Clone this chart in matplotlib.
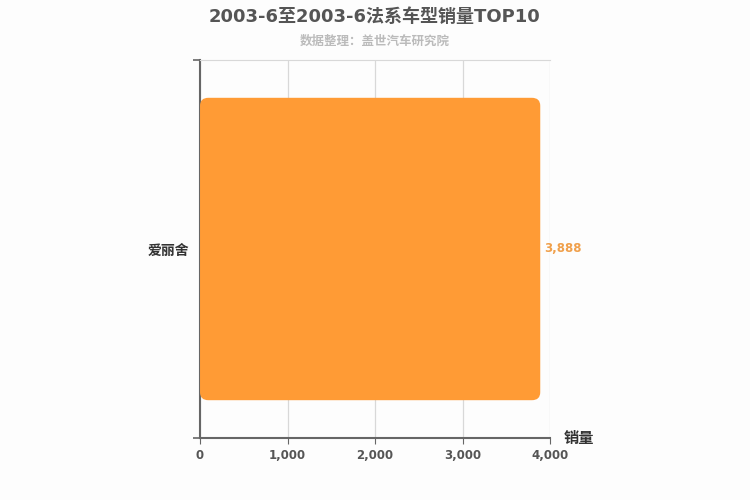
import matplotlib.pyplot as plt
from matplotlib.patches import FancyBboxPatch

plt.rcParams['font.family'] = ['DejaVu Sans', 'Noto Sans CJK SC']

models = ["爱丽舍"]
sales = [3888]
xticks = [0, 1000, 2000, 3000, 4000]

title = "2003-6至2003-6法系车型销量TOP10"
subtitle = "数据整理：盖世汽车研究院"

fig = plt.figure(figsize=(7.5, 5), dpi=100, facecolor="#fdfdfd")
ax = fig.add_axes([0.2667, 0.124, 0.4667, 0.756])
ax.set_facecolor("#fdfdfd")

bars = ax.barh(models, sales, height=0.8, color="#ff9b35")
ax.set_xlim(0, 4000)
ax.set_ylim(-0.5, 0.5)

# swap the plain bars for rounded ones at the same place
for b in bars:
    x0, y0 = b.get_x(), b.get_y()
    w, h = b.get_width(), b.get_height()
    b.set_visible(False)
    rb = FancyBboxPatch((x0, y0), w, h,
                        boxstyle="round,pad=0,rounding_size=95",
                        mutation_aspect=0.021 / 95,
                        facecolor="#ff9b35", edgecolor="none", zorder=3)
    ax.add_patch(rb)

for m, v in zip(models, sales):
    ax.text(v + 50, m, f"{v:,}", va="center", ha="left",
            color="#f0a04b", fontsize=8.5, fontweight="bold")

ax.set_xticks(xticks)
ax.set_xticklabels([f"{t:,}" for t in xticks])
ax.grid(axis="x", color="#d8d8d8", linewidth=0.9, zorder=0)
ax.set_axisbelow(True)

ax.set_yticks([-0.5, 0.5], minor=True)
ax.tick_params(axis="y", which="major", length=0, labelsize=10, labelcolor="#333333", pad=8)
ax.tick_params(axis="y", which="minor", length=5, color="#666666", width=1.2)
ax.tick_params(axis="x", length=4, color="#666666", labelsize=8.5, labelcolor="#555555", pad=4)
for lbl in ax.get_yticklabels():
    lbl.set_fontweight("bold")
for lbl in ax.get_xticklabels():
    lbl.set_fontweight("bold")

ax.spines["left"].set_color("#666666")
ax.spines["left"].set_linewidth(1.5)
ax.spines["bottom"].set_color("#666666")
ax.spines["bottom"].set_linewidth(1.5)
ax.spines["top"].set_color("#d8d8d8")
ax.spines["right"].set_visible(False)

ax.text(1.04, 0.0, "销量", transform=ax.transAxes, ha="left", va="center",
        fontsize=11, fontweight="bold", color="#333333")

fig.text(0.5, 0.967, title, ha="center", va="center", fontsize=13,
         fontweight="bold", color="#555555")
fig.text(0.5, 0.918, subtitle, ha="center", va="center", fontsize=9,
         fontweight="bold", color="#bbbbbb")

fig.savefig("out.png", dpi=100, facecolor=fig.get_facecolor())
